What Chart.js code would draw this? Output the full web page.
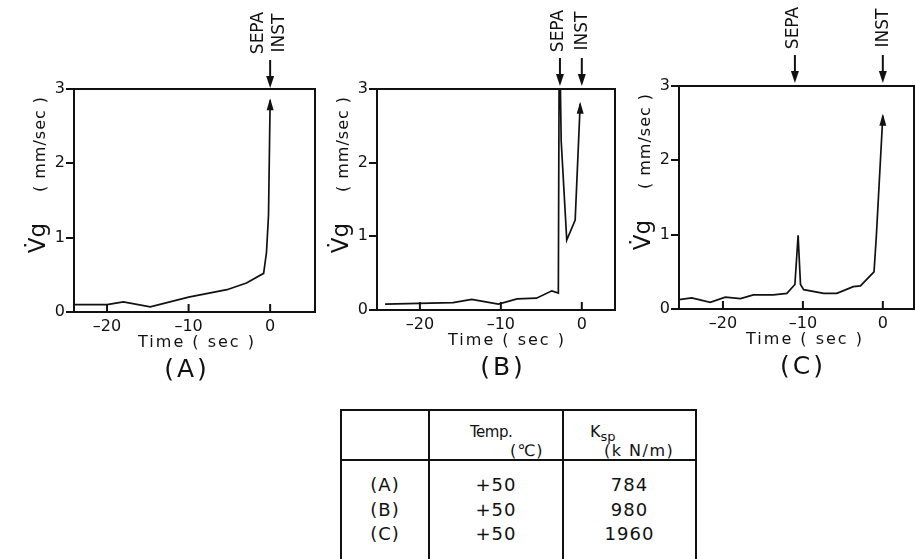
<!DOCTYPE html>
<html>
<head>
<meta charset="utf-8">
<title>Vg before instability</title>
<script src="https://cdn.jsdelivr.net/npm/chart.js@4.4.1/dist/chart.umd.min.js"></script>
<style>
  html, body { margin: 0; padding: 0; background: #fff; }
  body { width: 915px; height: 559px; overflow: hidden; position: relative; font-family: 'DejaVu Sans', sans-serif; color: #111; }
  canvas { position: absolute; top: 0; }
  table { position: absolute; left: 340px; top: 409px; border-collapse: collapse; table-layout: fixed; }
  th, td { border-left: 2px solid #111; border-right: 2px solid #111; padding: 0; text-align: center; font-weight: normal; }
  thead th { border-top: 2px solid #111; border-bottom: 2px solid #111; height: 48px; position: relative; font-size: 15px; }
  tbody td { height: 24.5px; font-size: 18px; letter-spacing: 1px; line-height: 24.5px; }
  tbody tr:first-child td { padding-top: 12px; }
  tbody tr:last-child td { padding-bottom: 40px; }
  .hd { position: absolute; white-space: nowrap; }
</style>
</head>
<body>
<canvas id="chartA" width="317" height="400" style="left:0px"></canvas>
<canvas id="chartB" width="301" height="400" style="left:317px"></canvas>
<canvas id="chartC" width="297" height="400" style="left:618px"></canvas>

<table>
  <colgroup><col style="width:88px"><col style="width:134px"><col style="width:133px"></colgroup>
  <thead>
    <tr>
      <th></th>
      <th><span class="hd" style="left:40px;top:12px;letter-spacing:-0.5px">Temp.</span><span class="hd" style="left:80px;top:30px;font-size:16px;letter-spacing:1px">(℃)</span></th>
      <th><span class="hd" style="left:26px;top:11px;font-size:16px">K<sub style="font-size:13px">sp</sub></span><span class="hd" style="left:40px;top:30px;font-size:16px;letter-spacing:1.5px">(k N/m)</span></th>
    </tr>
  </thead>
  <tbody id="tbody"></tbody>
</table>

<script>
// time before instability (sec) and grip-to-grip velocity Vg (mm/sec)
const timeA = [-24, -20, -18, -14.7, -10, -5.3, -2.9, -0.8, -0.45, -0.2, 0];
const vgA   = [0.1, 0.1, 0.135, 0.07, 0.2, 0.3, 0.39, 0.52, 0.8, 1.3, 2.85];

const timeB = [-24.3, -15.9, -13.6, -10.3, -8.0, -5.6, -3.7, -2.9, -2.8, -2.68, -2.55, -1.86, -0.82, -0.2];
const vgB   = [0.08, 0.1, 0.145, 0.08, 0.15, 0.16, 0.26, 0.23, 3.3, 3.3, 2.3, 0.95, 1.22, 2.8];

const timeC = [-25.5, -23.9, -21.6, -19.7, -17.8, -16.2, -13.7, -12, -11, -10.6, -10.3, -9.9, -7.4, -5.75, -3.7, -2.8, -1.1, -0.8, 0];
const vgC   = [0.125, 0.15, 0.09, 0.16, 0.14, 0.19, 0.19, 0.21, 0.33, 0.99, 0.33, 0.26, 0.21, 0.21, 0.3, 0.31, 0.5, 1.0, 2.6];

// event markers (sec): separation and instability
const sepaTimes = [0, -2.7, -11];
const instTimes = [0, 0, 0];

const panelLetters = ['(A)', '(B)', '(C)'];
const xTicks = [-20, -10, 0];
const yTicks = [0, 1, 2, 3];

// table
const caseLabels = ['(A)', '(B)', '(C)'];
const temps = ['+50', '+50', '+50'];
const kspValues = ['784', '980', '1960'];

const ink = '#111';
Chart.defaults.font.family = "'DejaVu Sans', sans-serif";
Chart.defaults.color = ink;

function vText(ctx, str, x, y, font, spacing, baseline) {
  ctx.save();
  ctx.translate(x, y);
  ctx.rotate(-Math.PI / 2);
  ctx.font = font;
  ctx.letterSpacing = spacing || '0px';
  ctx.textAlign = 'center';
  ctx.textBaseline = baseline || 'middle';
  ctx.fillText(str, 0, 0);
  ctx.restore();
}

function downArrow(ctx, x, y0, y1) {
  ctx.lineWidth = 2;
  ctx.beginPath(); ctx.moveTo(x, y0); ctx.lineTo(x, y1 - 8); ctx.stroke();
  ctx.beginPath(); ctx.moveTo(x, y1); ctx.lineTo(x - 4, y1 - 12); ctx.lineTo(x + 4, y1 - 12); ctx.closePath(); ctx.fill();
}

const panelDecor = {
  id: 'panelDecor',
  afterDatasetsDraw(chart, args, opts) {
    const ctx = chart.ctx, a = chart.chartArea, xs = chart.scales.x;
    ctx.save();
    ctx.strokeStyle = ink; ctx.fillStyle = ink;

    // frame
    ctx.lineWidth = 2;
    ctx.strokeRect(a.left, a.top, a.right - a.left, a.bottom - a.top);

    // time ticks point into the plot
    xTicks.forEach(v => {
      const x = xs.getPixelForValue(v);
      ctx.beginPath(); ctx.moveTo(x, a.bottom); ctx.lineTo(x, a.bottom - 8); ctx.stroke();
    });

    // arrow head at the end of the trace
    const pts = chart.getDatasetMeta(0).data;
    const end = pts[pts.length - 1];
    ctx.beginPath();
    ctx.moveTo(end.x, end.y - 2);
    ctx.lineTo(end.x - 3.5, end.y + 10);
    ctx.lineTo(end.x + 3.5, end.y + 10);
    ctx.closePath(); ctx.fill();

    // SEPA / INST markers
    const labelFont = '17px DejaVu Sans';
    const xs1 = xs.getPixelForValue(opts.sepa);
    const xi = xs.getPixelForValue(opts.inst);
    if (Math.abs(xs1 - xi) < 3) {
      downArrow(ctx, xi, a.top - 29, a.top - 1);
      vText(ctx, 'SEPA', xi - 12, a.top - 56, labelFont);
      vText(ctx, 'INST', xi + 9, a.top - 56, labelFont);
    } else {
      downArrow(ctx, xs1, a.top - 31, a.top - 3);
      downArrow(ctx, xi, a.top - 31, a.top - 3);
      vText(ctx, 'SEPA', xs1 - 1, a.top - 58, labelFont);
      vText(ctx, 'INST', xi + 1, a.top - 58, labelFont);
    }

    // y title
    ctx.save();
    ctx.translate(a.left - 29, a.top + 149);
    ctx.rotate(-Math.PI / 2);
    ctx.font = '23px DejaVu Sans';
    ctx.textAlign = 'center';
    ctx.textBaseline = 'alphabetic';
    ctx.fillText('V\u0307g', 0, 0);
    ctx.restore();
    vText(ctx, '( mm/sec )', a.left - 29, a.top + 55, '16px DejaVu Sans', '1px', 'alphabetic');

    // x title and panel letter
    ctx.textAlign = 'center';
    ctx.textBaseline = 'middle';
    ctx.font = '16px DejaVu Sans';
    ctx.letterSpacing = '2px';
    ctx.fillText('Time ( sec )', a.left + opts.timeDx, a.bottom + 31);
    ctx.font = '25px DejaVu Sans';
    ctx.letterSpacing = '3px';
    ctx.fillText(opts.letter, a.left + opts.letterDx, a.bottom + 58);
    ctx.restore();
  }
};

function makePanel(id, times, vg, idx, lay) {
  new Chart(document.getElementById(id), {
    type: 'scatter',
    data: {
      datasets: [{
        data: times.map((t, i) => ({ x: t, y: vg[i] })),
        showLine: true,
        borderColor: ink,
        borderWidth: 1.7,
        pointRadius: 0,
        tension: 0
      }]
    },
    options: {
      responsive: false,
      animation: false,
      devicePixelRatio: 1,
      layout: { padding: { top: lay.top, right: lay.right, bottom: 0, left: 0 } },
      plugins: {
        legend: { display: false },
        tooltip: { enabled: false },
        panelDecor: { sepa: sepaTimes[idx], inst: instTimes[idx], letter: panelLetters[idx], timeDx: lay.timeDx, letterDx: lay.letterDx }
      },
      scales: {
        x: {
          type: 'linear',
          min: lay.xMin, max: lay.xMax,
          afterBuildTicks: s => { s.ticks = xTicks.map(v => ({ value: v })); },
          afterFit: s => { s.height = lay.xHeight; },
          grid: { display: false, drawTicks: false },
          border: { display: false },
          ticks: {
            padding: 5,
            font: { size: 16 },
            callback: v => v < 0 ? '\u2013' + Math.abs(v) : String(v)
          }
        },
        y: {
          min: 0, max: 3,
          afterBuildTicks: s => { s.ticks = yTicks.map(v => ({ value: v })); },
          afterFit: s => { s.width = lay.yWidth; },
          grid: { drawOnChartArea: false, drawTicks: true, tickLength: 8, color: ink, lineWidth: 2 },
          border: { display: false },
          ticks: { padding: 1, font: { size: 16 } }
        }
      }
    },
    plugins: [panelDecor]
  });
}

makePanel('chartA', timeA, vgA, 0, { top: 89, right: 2, xHeight: 88, yWidth: 74, xMin: -24.05, xMax: 5.5, timeDx: 123, letterDx: 113 });
makePanel('chartB', timeB, vgB, 1, { top: 89, right: 3, xHeight: 90, yWidth: 60, xMin: -25.3, xMax: 4.1, timeDx: 130, letterDx: 126 });
makePanel('chartC', timeC, vgC, 2, { top: 86, right: 1, xHeight: 91, yWidth: 61, xMin: -25.5, xMax: 3.9, timeDx: 126, letterDx: 124 });

const tbody = document.getElementById('tbody');
caseLabels.forEach((c, i) => {
  const tr = document.createElement('tr');
  [c, temps[i], kspValues[i]].forEach(txt => {
    const td = document.createElement('td');
    td.textContent = txt;
    tr.appendChild(td);
  });
  tbody.appendChild(tr);
});
</script>
</body>
</html>
